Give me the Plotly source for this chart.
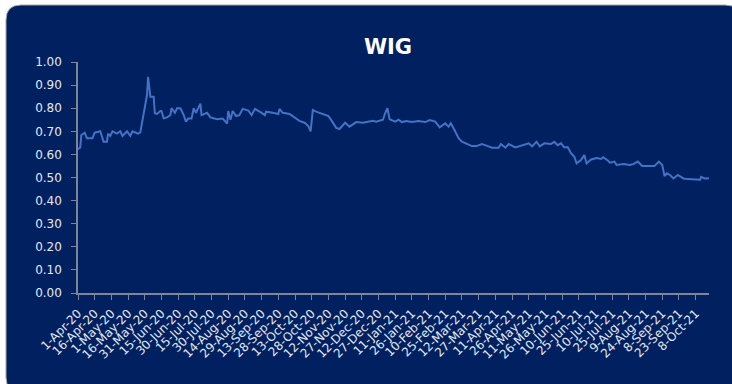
import pandas as pd
import plotly.graph_objects as go

start_date = "2020-04-01"
# days since start_date and the WIG values
days_since_start = [0, 2, 3, 6, 8, 13, 15, 20, 23, 26, 27, 29, 31, 35, 38, 40, 44, 47, 49, 54, 56, 58,
                    62, 63, 65, 66, 68, 69, 71, 74, 75, 77, 80, 83, 84, 87, 89, 92, 95, 97, 99, 102,
                    104, 106, 110, 111, 116, 119, 125, 130, 134, 135, 137, 139, 142, 145, 148, 153,
                    156, 159, 162, 165, 168, 169, 175, 180, 181, 184, 190, 196, 199, 204, 207, 209,
                    211, 214, 219, 225, 228, 232, 235, 240, 244, 250, 256, 265, 268, 274, 276, 278,
                    280, 285, 288, 291, 295, 300, 306, 312, 316, 321, 325, 330, 333, 335, 339, 342,
                    345, 348, 354, 358, 363, 367, 372, 378, 380, 384, 387, 393, 399, 405, 408, 412,
                    415, 419, 425, 428, 431, 434, 437, 440, 443, 446, 448, 452, 455, 457, 461, 466,
                    470, 472, 476, 478, 482, 484, 490, 496, 499, 503, 507, 513, 518, 522, 525, 527,
                    529, 532, 535, 539, 544, 548, 554, 559, 560, 563, 567]
wig_values = [0.623, 0.63, 0.684, 0.694, 0.67, 0.67, 0.694, 0.70, 0.655, 0.655, 0.69, 0.68, 0.70, 0.69,
              0.70, 0.68, 0.70, 0.68, 0.70, 0.69, 0.695, 0.75, 0.857, 0.936, 0.85, 0.85, 0.85, 0.778,
              0.775, 0.788, 0.788, 0.756, 0.76, 0.77, 0.80, 0.78, 0.80, 0.80, 0.77, 0.742, 0.755,
              0.755, 0.80, 0.78, 0.82, 0.77, 0.78, 0.76, 0.752, 0.755, 0.734, 0.788, 0.75, 0.788,
              0.766, 0.77, 0.797, 0.79, 0.77, 0.797, 0.79, 0.78, 0.77, 0.785, 0.78, 0.775, 0.797,
              0.78, 0.775, 0.757, 0.745, 0.736, 0.722, 0.70, 0.792, 0.785, 0.775, 0.766, 0.745,
              0.715, 0.71, 0.737, 0.72, 0.740, 0.737, 0.746, 0.742, 0.75, 0.778, 0.80, 0.752, 0.742,
              0.75, 0.74, 0.745, 0.74, 0.745, 0.74, 0.749, 0.742, 0.717, 0.735, 0.72, 0.735, 0.699,
              0.67, 0.655, 0.648, 0.636, 0.636, 0.645, 0.638, 0.629, 0.629, 0.645, 0.629, 0.645,
              0.63, 0.64, 0.648, 0.635, 0.655, 0.635, 0.648, 0.645, 0.655, 0.64, 0.648, 0.63, 0.632,
              0.605, 0.59, 0.561, 0.576, 0.597, 0.561, 0.578, 0.584, 0.58, 0.588, 0.574, 0.564,
              0.569, 0.554, 0.558, 0.554, 0.558, 0.569, 0.55, 0.55, 0.55, 0.569, 0.554, 0.506,
              0.518, 0.511, 0.496, 0.511, 0.496, 0.493, 0.49, 0.49, 0.503, 0.496, 0.497]
tick_step_days = 15
last_tick_date = "2021-10-08"
y_ticks = [0.0, 0.1, 0.2, 0.3, 0.4, 0.5, 0.6, 0.7, 0.8, 0.9, 1.0]
title_text = "WIG"

dates = pd.to_datetime(start_date) + pd.to_timedelta(days_since_start, unit="D")
tick_dates = pd.date_range(start_date, last_tick_date, freq=f"{tick_step_days}D")

W, H = 732, 384
ML, MR, MT, MB = 78, 23, 62, 91
pw, ph = W - ML - MR, H - MT - MB


def px_to_paper(x, y):
    return (x - ML) / pw, (H - MB - y) / ph


# rounded background panel (pixel geometry converted to paper coords)
x0, y0, x1, y1, r = 6, 5, 740, 392, 15
def P(x, y):
    a, b = px_to_paper(x, y)
    return f"{a:.5f},{b:.5f}"
panel_path = (f"M {P(x0, y0 + r)} Q {P(x0, y0)} {P(x0 + r, y0)} L {P(x1 - r, y0)} "
              f"Q {P(x1, y0)} {P(x1, y0 + r)} L {P(x1, y1 - r)} Q {P(x1, y1)} {P(x1 - r, y1)} "
              f"L {P(x0 + r, y1)} Q {P(x0, y1)} {P(x0, y1 - r)} Z")

navy = "#002060"
FONT = "DejaVu Sans, Verdana, sans-serif"
fig = go.Figure()
fig.add_trace(go.Scatter(x=dates, y=wig_values, mode="lines",
                         line=dict(color="#4472C4", width=2), hoverinfo="x+y"))

fig.update_layout(
    width=W, height=H,
    margin=dict(l=ML, r=MR, t=MT, b=MB),
    paper_bgcolor="white", plot_bgcolor="rgba(0,0,0,0)",
    showlegend=False,
    font=dict(family=FONT, color="#E6E9F0"),
    title=dict(text=f"<b>{title_text}</b>", x=388 / W, xanchor="center",
               y=1 - 47 / H, yanchor="middle",
               font=dict(size=21, color="white", family=FONT)),
    shapes=[dict(type="path", path=panel_path, xref="paper", yref="paper",
                 fillcolor=navy, line=dict(color="#A6A6A6", width=1), layer="below")],
)
fig.update_xaxes(
    type="date",
    range=[dates[0], dates[-1]],
    tickvals=tick_dates, tickformat="%-d-%b-%y", tickangle=-45,
    tickfont=dict(size=12, color="#E6E9F0"),
    showgrid=False, zeroline=False,
    showline=True, linecolor="#7F8496", linewidth=1.5,
    ticks="outside", ticklen=5, tickcolor="#7F8496",
    ticklabelstandoff=2,
)
fig.update_yaxes(
    range=[0, 1], tickvals=y_ticks, tickformat=".2f",
    tickfont=dict(size=12, color="#E6E9F0"),
    showgrid=False, zeroline=False,
    showline=True, linecolor="#7F8496", linewidth=1.5,
    ticks="outside", ticklen=5, tickcolor="#7F8496",
    ticklabelstandoff=7,
)

fig.write_html("out.html")
